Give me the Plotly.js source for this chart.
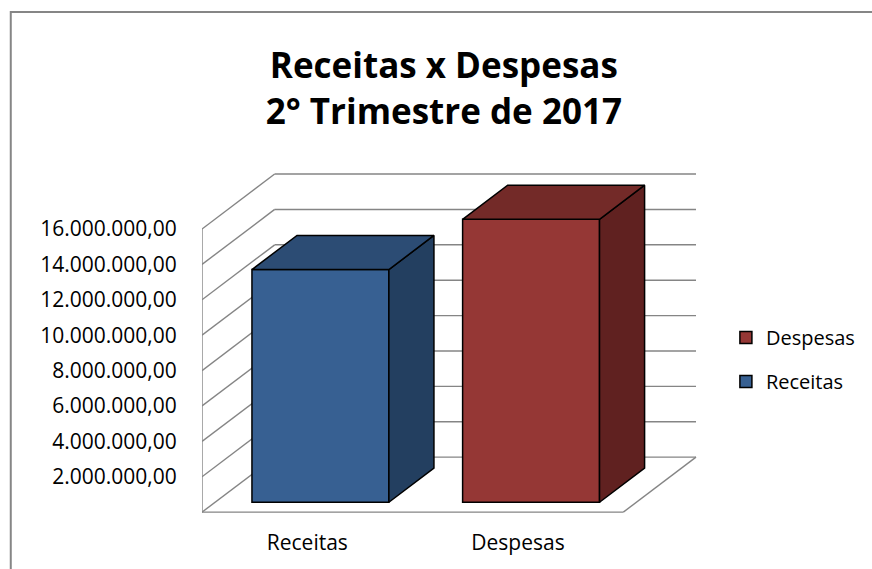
<!DOCTYPE html>
<html>
<head>
<meta charset="utf-8">
<script src="https://cdn.plot.ly/plotly-3.0.1.min.js"></script>
<style>
  html, body { margin: 0; padding: 0; background: #fff; }
  #chart { width: 872px; height: 569px; }
</style>
</head>
<body>
<div id="chart"></div>
<script>
// data
var categories = ["Receitas", "Despesas"];
var values = [13150000, 15990000];
var frontColors = ["#376092", "#953735"];
var sideColors = ["#233f60", "#602120"];
var topColors = ["#2c4c74", "#732a28"];
var legendRanks = [2, 1];
var yTicks = [0, 2000000, 4000000, 6000000, 8000000, 10000000, 12000000, 14000000, 16000000];

// oblique 3d look: depth offset in axis units
var kx = 0.345;      // category units for full depth
var ky = 3107000;    // value units for full depth
var dFront = 0.18;   // bar front face depth
var dBack = 0.80;    // bar back face depth
var barW = 0.65;
var wallTop = 16000000;

var margin = {l: 202, r: 167, t: 160, b: 48};
var plotW = 872 - margin.l - margin.r;
var plotH = 569 - margin.t - margin.b;

var traces = [];
var shapes = [];

function line(x0, y0, x1, y1) {
  shapes.push({type: "line", xref: "x", yref: "y", x0: x0, y0: y0, x1: x1, y1: y1,
    layer: "below", line: {color: "#858585", width: 1.4}});
}

// walls and floor
var xl = -0.5, xr = categories.length - 0.5;
yTicks.forEach(function (v) {
  line(xl, v, xl + kx, v + ky);
  line(xl + kx, v + ky, xr + kx, v + ky);
});
line(xl, 0, xl, wallTop);
line(xl, 0, xr, 0);
line(xr, 0, xr + kx, ky);

// outer chart frame (paper coords)
shapes.push({type: "rect", xref: "paper", yref: "paper", layer: "below",
  x0: (10 - margin.l) / plotW, x1: (900 - margin.l) / plotW,
  y0: (569 - margin.b - 600) / plotH, y1: (569 - margin.b - 12) / plotH,
  line: {color: "#868686", width: 2}});

var dd = dBack - dFront;
categories.forEach(function (c, i) {
  var cx = i + dFront * kx;
  var b0 = dFront * ky;
  var top = b0 + values[i];
  var x0 = cx - barW / 2, x1 = cx + barW / 2;
  traces.push({
    type: "bar", name: c, x: [cx], y: [values[i]], base: [b0], width: [barW],
    marker: {color: frontColors[i], line: {color: "#000", width: 1.5}},
    legendgroup: c, legendrank: legendRanks[i], hoverinfo: "skip"
  });
  traces.push({
    type: "scatter", mode: "lines", fill: "toself", fillcolor: sideColors[i],
    x: [x1, x1 + dd * kx, x1 + dd * kx, x1, x1],
    y: [b0, b0 + dd * ky, top + dd * ky, top, b0],
    line: {color: "#000", width: 1.5}, showlegend: false, hoverinfo: "skip"
  });
  traces.push({
    type: "scatter", mode: "lines", fill: "toself", fillcolor: topColors[i],
    x: [x0, x1, x1 + dd * kx, x0 + dd * kx, x0],
    y: [top, top, top + dd * ky, top + dd * ky, top],
    line: {color: "#000", width: 1.5}, showlegend: false, hoverinfo: "skip"
  });
});

var layout = {
  width: 872, height: 569,
  margin: margin,
  paper_bgcolor: "#fff", plot_bgcolor: "rgba(0,0,0,0)",
  separators: ",.",
  font: {family: "Open Sans, sans-serif", color: "#000", size: 20},
  title: {
    text: "<b>Receitas x Despesas<br>2° Trimestre de 2017</b>",
    font: {size: 35, family: "Open Sans, sans-serif", color: "#000"},
    x: 0.509, xanchor: "center", y: 1 - 78 / 569, yanchor: "middle"
  },
  barmode: "overlay",
  showlegend: true,
  legend: {
    x: (728 - margin.l) / plotW, xanchor: "left",
    y: (569 - margin.b - 318) / plotH, yanchor: "top",
    traceorder: "grouped", tracegroupgap: 15,
    font: {size: 20}, bgcolor: "rgba(0,0,0,0)"
  },
  xaxis: {
    range: [-0.5, -0.5 + plotW / 211.5],
    tickvals: categories.map(function (c, i) { return i; }),
    ticktext: categories,
    showgrid: false, zeroline: false, showline: false,
    ticks: "outside", ticklen: 3, tickcolor: "rgba(0,0,0,0)",
    tickfont: {size: 21}
  },
  yaxis: {
    range: [-500000, 19900000],
    tickvals: yTicks.slice(1),
    tickformat: ",.2f",
    showgrid: false, zeroline: false, showline: false,
    ticks: "outside", ticklen: 20, tickcolor: "rgba(0,0,0,0)",
    tickfont: {size: 21}
  },
  shapes: shapes
};

Plotly.newPlot("chart", traces, layout, {staticPlot: true});
</script>
</body>
</html>
